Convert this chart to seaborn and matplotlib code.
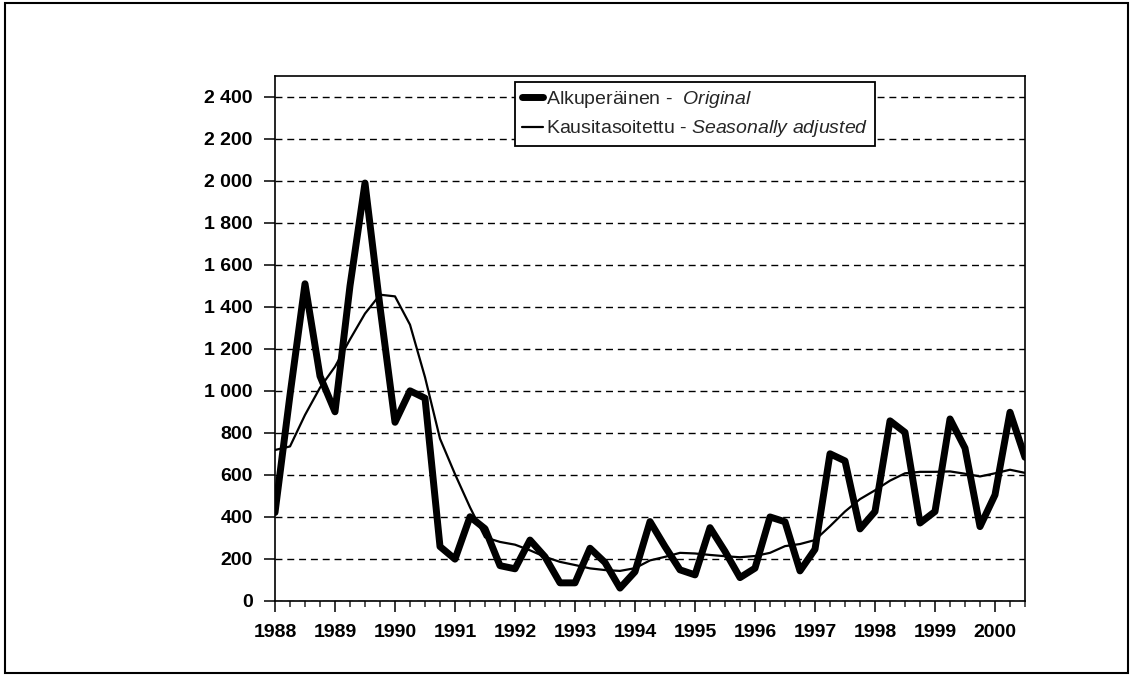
import numpy as np
import pandas as pd
import matplotlib
matplotlib.use("Agg")
import matplotlib.pyplot as plt
import matplotlib.patches as mpatches
from matplotlib.ticker import MultipleLocator, FuncFormatter
import seaborn as sns

# quarterly data, 1988Q1 .. 2000Q3
quarters = pd.period_range("1988Q1", "2000Q3", freq="Q")

original = [420, 980, 1510, 1070, 900, 1500, 1990, 1400,
            850, 1000, 965, 258, 198, 400, 343, 167,
            152, 289, 209, 85, 85, 250, 182, 60,
            138, 377, 258, 147, 123, 348, 235, 110,
            155, 399, 376, 142, 245, 700, 666, 342,
            425, 857, 802, 370, 425, 866, 727, 353,
            504, 898, 683]

seasonal = [718, 735, 885, 1015, 1115, 1245, 1368, 1458,
            1450, 1315, 1065, 772, 603, 445, 302, 280,
            267, 240, 209, 185, 170, 154, 146, 142,
            155, 192, 209, 228, 225, 218, 212, 207,
            213, 228, 260, 270, 289, 355, 425, 484,
            526, 572, 607, 614, 614, 616, 605, 592,
            607, 624, 609]

label_orig = r"Alkuperäinen -  $\mathit{Original}$"
label_seas = r"Kausitasoitettu - $\mathit{Seasonally\ adjusted}$"

year_pos = quarters.year + (quarters.quarter - 1) / 4.0
df = pd.DataFrame({"t": year_pos, "orig": original, "seas": seasonal})

sns.set_style("ticks")
plt.rcParams["font.family"] = ["Liberation Sans", "DejaVu Sans"]
plt.rcParams["mathtext.fontset"] = "custom"
plt.rcParams["mathtext.rm"] = "Liberation Sans"
plt.rcParams["mathtext.it"] = "Liberation Sans:italic"

fig = plt.figure(figsize=(11.34, 6.75), dpi=100)
ax = fig.add_axes([275 / 1134, 1 - 600.7 / 675, 750 / 1134, (600.7 - 76) / 675])

sns.lineplot(data=df, x="t", y="orig", ax=ax, color="black", lw=5.0,
             label=label_orig, zorder=4)
sns.lineplot(data=df, x="t", y="seas", ax=ax, color="black", lw=1.6,
             label=label_seas, zorder=3)

ax.set_xlim(1988, 2000.5)
ax.set_ylim(0, 2500)
ax.xaxis.set_major_locator(MultipleLocator(1))
ax.xaxis.set_minor_locator(MultipleLocator(0.25))
ax.xaxis.set_major_formatter(FuncFormatter(lambda v, p: f"{int(round(v))}"))
ax.set_yticks(np.arange(0, 2401, 200))
ax.yaxis.set_major_formatter(FuncFormatter(lambda v, p: f"{int(v):,}".replace(",", " ")))
ax.set_xlabel("")
ax.set_ylabel("")

ax.yaxis.grid(True, color="black", lw=1.0, linestyle=(0, (5, 3.5)))
ax.xaxis.grid(False)
ax.set_axisbelow(True)

for s in ax.spines.values():
    s.set_visible(True)
    s.set_linewidth(1.2)
    s.set_color("black")

ax.tick_params(axis="both", which="major", labelsize=14, colors="black",
               direction="out", length=8, width=1.1)
ax.tick_params(axis="y", pad=8)
ax.tick_params(axis="x", pad=9)
ax.tick_params(axis="x", which="minor", direction="out", length=4, width=1.1)
for lab in ax.get_xticklabels() + ax.get_yticklabels():
    lab.set_fontweight("bold")

leg = ax.legend(loc="upper left", bbox_to_anchor=(0.32, 0.989), fontsize=14,
                frameon=True, fancybox=False, framealpha=1, edgecolor="black",
                handlelength=1.1, handletextpad=0.15, borderpad=0.35,
                labelspacing=0.45, borderaxespad=0)
leg.get_frame().set_linewidth(1.3)

# outer border of the figure
fig.patches.append(mpatches.Rectangle((5 / 1134, 2 / 675), 1123 / 1134, 670 / 675,
                                      transform=fig.transFigure, fill=False,
                                      edgecolor="black", lw=1.5))

fig.savefig("out.png", dpi=100)
plt.close(fig)
